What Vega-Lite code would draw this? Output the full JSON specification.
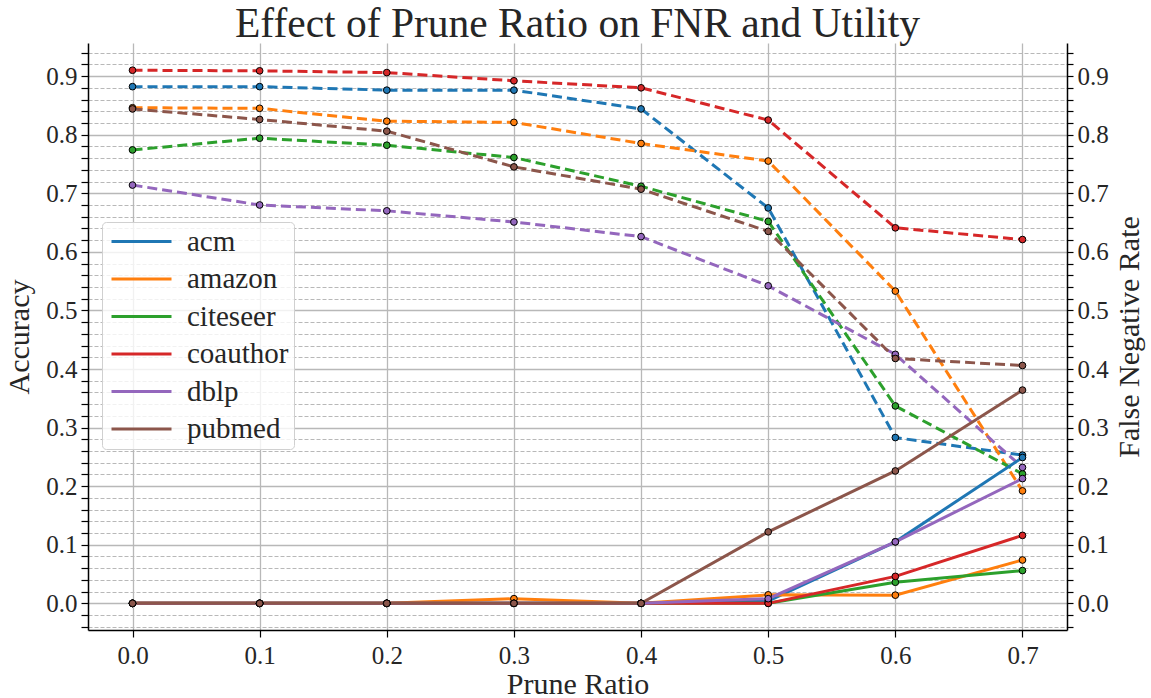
{
  "$schema": "https://vega.github.io/schema/vega-lite/v6.json",
  "autosize": {"type": "none"},
  "width": 979,
  "height": 587,
  "padding": {"left": 88, "top": 43, "right": 84, "bottom": 68},
  "background": "white",
  "config": {
    "view": {"stroke": null},
    "font": "Liberation Serif",
    "axis": {
      "labelFont": "Liberation Serif",
      "titleFont": "Liberation Serif",
      "labelColor": "#262626",
      "titleColor": "#262626",
      "titleFontWeight": "normal",
      "labelFontSize": 25,
      "titleFontSize": 30,
      "domainColor": "black",
      "domainWidth": 1.5,
      "tickColor": "black",
      "tickWidth": 1.2
    }
  },
  "title": {
    "text": "Effect of Prune Ratio on FNR and Utility",
    "font": "Liberation Serif",
    "fontSize": 41.5,
    "fontWeight": "normal",
    "color": "#262626",
    "anchor": "middle",
    "frame": "group",
    "baseline": "alphabetic",
    "offset": 7,
    "dy": 42
  },
  "data": {
    "values": [
      {"ratio": 0.0, "dataset": "acm", "acc": 0.882, "fnr": 0.0},
      {"ratio": 0.1, "dataset": "acm", "acc": 0.882, "fnr": 0.0},
      {"ratio": 0.2, "dataset": "acm", "acc": 0.876, "fnr": 0.0},
      {"ratio": 0.3, "dataset": "acm", "acc": 0.876, "fnr": 0.0},
      {"ratio": 0.4, "dataset": "acm", "acc": 0.844, "fnr": 0.0},
      {"ratio": 0.5, "dataset": "acm", "acc": 0.675, "fnr": 0.004},
      {"ratio": 0.6, "dataset": "acm", "acc": 0.283, "fnr": 0.105},
      {"ratio": 0.7, "dataset": "acm", "acc": 0.253, "fnr": 0.249},
      {"ratio": 0.0, "dataset": "amazon", "acc": 0.846, "fnr": 0.0},
      {"ratio": 0.1, "dataset": "amazon", "acc": 0.845, "fnr": 0.0},
      {"ratio": 0.2, "dataset": "amazon", "acc": 0.823, "fnr": 0.0},
      {"ratio": 0.3, "dataset": "amazon", "acc": 0.821, "fnr": 0.008},
      {"ratio": 0.4, "dataset": "amazon", "acc": 0.785, "fnr": 0.0},
      {"ratio": 0.5, "dataset": "amazon", "acc": 0.755, "fnr": 0.0145},
      {"ratio": 0.6, "dataset": "amazon", "acc": 0.533, "fnr": 0.014},
      {"ratio": 0.7, "dataset": "amazon", "acc": 0.192, "fnr": 0.074},
      {"ratio": 0.0, "dataset": "citeseer", "acc": 0.774, "fnr": 0.0},
      {"ratio": 0.1, "dataset": "citeseer", "acc": 0.794, "fnr": 0.0},
      {"ratio": 0.2, "dataset": "citeseer", "acc": 0.782, "fnr": 0.0},
      {"ratio": 0.3, "dataset": "citeseer", "acc": 0.761, "fnr": 0.0},
      {"ratio": 0.4, "dataset": "citeseer", "acc": 0.712, "fnr": 0.0},
      {"ratio": 0.5, "dataset": "citeseer", "acc": 0.652, "fnr": 0.0},
      {"ratio": 0.6, "dataset": "citeseer", "acc": 0.337, "fnr": 0.036},
      {"ratio": 0.7, "dataset": "citeseer", "acc": 0.221, "fnr": 0.056},
      {"ratio": 0.0, "dataset": "coauthor", "acc": 0.910, "fnr": 0.0},
      {"ratio": 0.1, "dataset": "coauthor", "acc": 0.909, "fnr": 0.0},
      {"ratio": 0.2, "dataset": "coauthor", "acc": 0.906, "fnr": 0.0},
      {"ratio": 0.3, "dataset": "coauthor", "acc": 0.892, "fnr": 0.0},
      {"ratio": 0.4, "dataset": "coauthor", "acc": 0.880, "fnr": 0.0},
      {"ratio": 0.5, "dataset": "coauthor", "acc": 0.825, "fnr": 0.0},
      {"ratio": 0.6, "dataset": "coauthor", "acc": 0.641, "fnr": 0.046},
      {"ratio": 0.7, "dataset": "coauthor", "acc": 0.621, "fnr": 0.116},
      {"ratio": 0.0, "dataset": "dblp", "acc": 0.714, "fnr": 0.0},
      {"ratio": 0.1, "dataset": "dblp", "acc": 0.680, "fnr": 0.0},
      {"ratio": 0.2, "dataset": "dblp", "acc": 0.670, "fnr": 0.0},
      {"ratio": 0.3, "dataset": "dblp", "acc": 0.651, "fnr": 0.0},
      {"ratio": 0.4, "dataset": "dblp", "acc": 0.626, "fnr": 0.0},
      {"ratio": 0.5, "dataset": "dblp", "acc": 0.542, "fnr": 0.008},
      {"ratio": 0.6, "dataset": "dblp", "acc": 0.425, "fnr": 0.105},
      {"ratio": 0.7, "dataset": "dblp", "acc": 0.232, "fnr": 0.213},
      {"ratio": 0.0, "dataset": "pubmed", "acc": 0.844, "fnr": 0.0},
      {"ratio": 0.1, "dataset": "pubmed", "acc": 0.826, "fnr": 0.0},
      {"ratio": 0.2, "dataset": "pubmed", "acc": 0.806, "fnr": 0.0},
      {"ratio": 0.3, "dataset": "pubmed", "acc": 0.745, "fnr": 0.0},
      {"ratio": 0.4, "dataset": "pubmed", "acc": 0.707, "fnr": 0.0},
      {"ratio": 0.5, "dataset": "pubmed", "acc": 0.635, "fnr": 0.122},
      {"ratio": 0.6, "dataset": "pubmed", "acc": 0.418, "fnr": 0.226},
      {"ratio": 0.7, "dataset": "pubmed", "acc": 0.406, "fnr": 0.364}
    ]
  },
  "encoding": {
    "x": {
      "field": "ratio",
      "type": "quantitative",
      "scale": {"domain": [-0.035, 0.735], "nice": false, "zero": false},
      "axis": {
        "title": "Prune Ratio",
        "values": [0, 0.1, 0.2, 0.3, 0.4, 0.5, 0.6, 0.7],
        "format": ".1f",
        "grid": true,
        "gridColor": "#b8b8b8",
        "gridWidth": 1.3,
        "tickSize": 7,
        "labelPadding": 6,
        "titlePadding": 1,
        "titleFontSize": 30
      }
    },
    "color": {
      "field": "dataset",
      "type": "nominal",
      "scale": {
        "domain": ["acm", "amazon", "citeseer", "coauthor", "dblp", "pubmed"],
        "range": ["#1f77b4", "#ff7f0e", "#2ca02c", "#d62728", "#9467bd", "#8c564b"]
      },
      "legend": {
        "title": null,
        "orient": "none",
        "legendX": 14,
        "legendY": 179,
        "padding": 5,
        "fillColor": "rgba(255,255,255,0.8)",
        "strokeColor": "#d0d0d0",
        "cornerRadius": 4,
        "symbolType": "M-1,0H5",
        "symbolSize": 400,
        "symbolStrokeWidth": 3,
        "symbolDash": [],
        "labelOffset": 51,
        "labelFont": "Liberation Serif",
        "labelFontSize": 29,
        "labelColor": "#262626",
        "rowPadding": 7.5,
        "labelLimit": 300,
        "encode": {
          "symbols": {
            "update": {
              "stroke": {"scale": "color", "field": "value"},
              "fill": {"value": "transparent"},
              "strokeWidth": {"value": 3},
              "strokeDash": {"value": []},
              "opacity": {"value": 1}
            }
          }
        }
      }
    }
  },
  "layer": [
    {
      "mark": {
        "type": "line",
        "strokeWidth": 3,
        "strokeDash": [10, 5],
        "point": {"filled": true, "size": 45, "stroke": "black", "strokeWidth": 1, "opacity": 1}
      },
      "encoding": {
        "y": {
          "field": "acc",
          "type": "quantitative",
          "scale": {"domain": [-0.0455, 0.9565], "nice": false, "zero": false},
          "axis": {
            "title": "Accuracy",
            "orient": "left",
            "values": [-0.04, -0.02, 0, 0.02, 0.04, 0.06, 0.08, 0.1, 0.12, 0.14, 0.16, 0.18, 0.2, 0.22, 0.24, 0.26, 0.28, 0.3, 0.32, 0.34, 0.36, 0.38, 0.4, 0.42, 0.44, 0.46, 0.48, 0.5, 0.52, 0.54, 0.56, 0.58, 0.6, 0.62, 0.64, 0.66, 0.68, 0.7, 0.72, 0.74, 0.76, 0.78, 0.8, 0.82, 0.84, 0.86, 0.88, 0.9, 0.92, 0.94],
            "labelExpr": "abs(datum.value*10 - round(datum.value*10)) < 0.000001 ? format(datum.value, '.1f') : ''",
            "grid": true,
            "gridColor": "#b8b8b8",
            "gridWidth": {"condition": {"test": "abs(datum.value*10 - round(datum.value*10)) < 0.000001", "value": 1.3}, "value": 1},
            "gridDash": {"condition": {"test": "abs(datum.value*10 - round(datum.value*10)) < 0.000001", "value": []}, "value": [4, 2]},
            "tickSize": 7,
            "labelPadding": 4,
            "titlePadding": 11
          }
        }
      }
    },
    {
      "mark": {
        "type": "line",
        "strokeWidth": 3,
        "point": {"filled": true, "size": 45, "stroke": "black", "strokeWidth": 1, "opacity": 1}
      },
      "encoding": {
        "y": {
          "field": "fnr",
          "type": "quantitative",
          "scale": {"domain": [-0.0455, 0.9565], "nice": false, "zero": false},
          "axis": {
            "title": "False Negative Rate",
            "orient": "right",
            "titleAngle": 270,
            "titleBaseline": "top",
            "values": [-0.04, -0.02, 0, 0.02, 0.04, 0.06, 0.08, 0.1, 0.12, 0.14, 0.16, 0.18, 0.2, 0.22, 0.24, 0.26, 0.28, 0.3, 0.32, 0.34, 0.36, 0.38, 0.4, 0.42, 0.44, 0.46, 0.48, 0.5, 0.52, 0.54, 0.56, 0.58, 0.6, 0.62, 0.64, 0.66, 0.68, 0.7, 0.72, 0.74, 0.76, 0.78, 0.8, 0.82, 0.84, 0.86, 0.88, 0.9, 0.92, 0.94],
            "labelExpr": "abs(datum.value*10 - round(datum.value*10)) < 0.000001 ? format(datum.value, '.1f') : ''",
            "grid": false,
            "tickSize": 6,
            "labelPadding": 4,
            "titlePadding": 6
          }
        }
      }
    }
  ],
  "resolve": {"scale": {"y": "independent"}}
}
